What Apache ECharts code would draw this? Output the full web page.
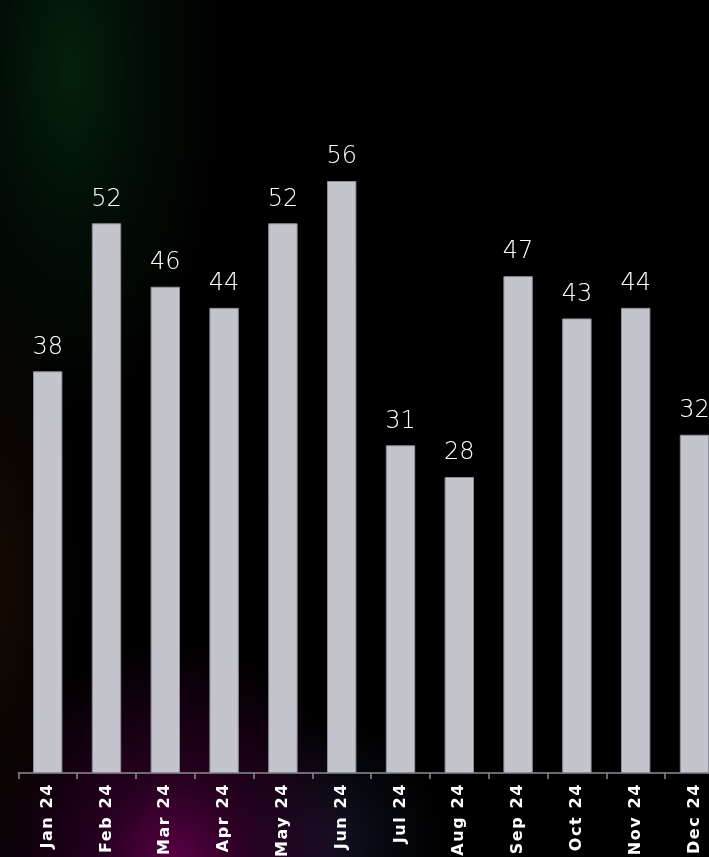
<!DOCTYPE html>
<html>
<head>
<meta charset="utf-8">
<script src="https://cdn.jsdelivr.net/npm/echarts@6/dist/echarts.min.js"></script>
<style>
  html, body { margin: 0; padding: 0; width: 709px; height: 857px; overflow: hidden; background: #000; }
  #wrap { position: absolute; left: 0; top: 0; width: 709px; height: 857px; overflow: hidden; }
  #bg {
    position: absolute; left: 0; top: 0; width: 709px; height: 857px;
    background:
      radial-gradient(ellipse 150px 340px at 70px 70px, rgba(4,34,12,0.95) 0%, rgba(3,24,9,0.6) 45%, rgba(0,0,0,0) 100%),
      radial-gradient(ellipse 190px 230px at 175px 870px, rgba(92,0,72,1) 0%, rgba(55,0,45,0.7) 40%, rgba(0,0,0,0) 100%),
      radial-gradient(ellipse 110px 120px at 330px 840px, rgba(18,22,40,0.8) 0%, rgba(0,0,0,0) 100%),
      radial-gradient(ellipse 80px 320px at 0px 580px, rgba(22,11,3,0.9) 0%, rgba(0,0,0,0) 100%),
      #000;
  }
  #chart { position: absolute; left: 0; top: 0; width: 726px; height: 857px; }
</style>
</head>
<body>
<div id="wrap">
<div id="bg"></div>
<div id="chart"></div>
</div>
<script>
const categories = ['Jan 24','Feb 24','Mar 24','Apr 24','May 24','Jun 24','Jul 24','Aug 24','Sep 24','Oct 24','Nov 24','Dec 24'];
const values = [38, 52, 46, 44, 52, 56, 31, 28, 47, 43, 44, 32];

// slightly wider letter spacing for the bold axis labels only
(function () {
  const proto = CanvasRenderingContext2D.prototype;
  const orig = proto.fillText;
  proto.fillText = function (t, x, y, w) {
    const f = String(this.font || '');
    const hasLS = ('letterSpacing' in this);
    const target = /bold|700/.test(f) && /16px/.test(f);
    if (hasLS) this.letterSpacing = target ? '1.6px' : '0px';
    const r = w === undefined ? orig.call(this, t, x, y) : orig.call(this, t, x, y, w);
    if (hasLS) this.letterSpacing = '0px';
    return r;
  };
})();

const chart = echarts.init(document.getElementById('chart'), null, { renderer: 'canvas' });
chart.setOption({
  backgroundColor: 'transparent',
  animation: false,
  grid: { left: 18.3, right: 2.1, top: 33, bottom: 84, containLabel: false },
  xAxis: {
    type: 'category',
    data: categories,
    axisLine: { show: true, lineStyle: { color: '#8a8a92', width: 1.5 } },
    axisTick: { show: true, length: 6, lineStyle: { color: '#8a8a92', width: 1.5 } },
    axisLabel: {
      rotate: 90,
      margin: 10,
      color: '#ffffff',
      fontFamily: 'DejaVu Sans',
      fontWeight: 'bold',
      fontSize: 16,
      interval: 0
    }
  },
  yAxis: {
    type: 'value',
    min: 0,
    max: 70,
    show: false,
    splitLine: { show: false }
  },
  series: [{
    type: 'bar',
    data: values,
    barWidth: '50%',
    itemStyle: { color: '#c4c4cc', borderColor: '#8e8e99', borderWidth: 1 },
    label: {
      show: true,
      position: 'top',
      distance: 12,
      color: '#ffffff',
      fontFamily: 'DejaVu Sans',
      fontWeight: 200,
      fontSize: 24
    }
  }]
});
</script>
</body>
</html>
